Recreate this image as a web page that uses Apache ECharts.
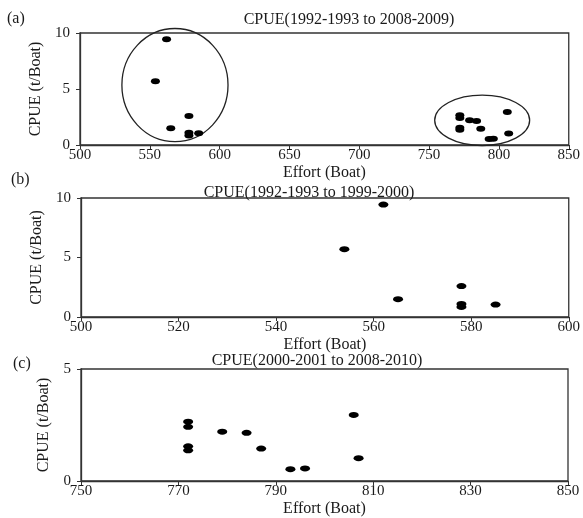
<!DOCTYPE html>
<html>
<head>
<meta charset="utf-8">
<title>CPUE vs Effort</title>
<script src="https://cdn.jsdelivr.net/npm/echarts@6/dist/echarts.min.js"></script>
<style>
    html, body { margin: 0; padding: 0; background: #fff; }
    #chart { width: 583px; height: 518px; }
</style>
</head>
<body>
<div id="chart"></div>
<script>
// 1992-1993 to 1999-2000
const effortEarly = [562, 554, 565, 578, 578, 578, 585]
const cpueEarly = [9.45, 5.7, 1.5, 2.6, 1.1, 0.85, 1.05]

// 2000-2001 to 2008-2010
const effortLate = [772, 772, 772, 772, 779, 784, 787, 793, 796, 806, 807]
const cpueLate = [2.65, 2.42, 1.55, 1.37, 2.2, 2.15, 1.45, 0.53, 0.56, 2.95, 1.02]

// the two groups circled in panel (a): centre effort, centre cpue, half width, half height
const groupCentreEffort = [568, 788]
const groupCentreCpue = [5.35, 2.2]
const groupHalfEffort = [38, 34]
const groupHalfCpue = [5.05, 2.25]

const xTicksA = [500, 550, 600, 650, 700, 750, 800, 850]
const xTicksB = [500, 520, 540, 560, 580, 600]
const xTicksC = [750, 770, 790, 810, 830, 850]
const yTicksAB = [0, 5, 10]
const yTicksC = [0, 5]

const panelTitles = ['CPUE(1992-1993 to 2008-2009)', 'CPUE(1992-1993 to 1999-2000)', 'CPUE(2000-2001 to 2008-2010)']
const panelTags = ['(a)', '(b)', '(c)']

const font = 'Liberation Serif'
const ink = '#1a1a1a'

const pairs = (xs, ys) => xs.map((x, i) => [x, ys[i]])
const allEffort = effortEarly.concat(effortLate)
const allCpue = cpueEarly.concat(cpueLate)

const grids = [
    { left: 80, top: 33, width: 492, height: 112 },
    { left: 81, top: 198, width: 489, height: 119 },
    { left: 81, top: 369, width: 487, height: 116 },
]

function xAxis(i, min, max, ticks) {
    return {
        type: 'value', gridIndex: i, min: min, max: max,
        name: 'Effort (Boat)', nameLocation: 'middle', nameGap: 20,
        nameTextStyle: { fontFamily: font, fontSize: 16, color: ink },
        axisLine: { show: true, lineStyle: { color: '#333', width: 1.3 } },
        axisTick: { show: true, length: 4, customValues: ticks, lineStyle: { color: '#333' } },
        axisLabel: { customValues: ticks, margin: 3, fontFamily: font, fontSize: 15, color: ink },
        splitLine: { show: false },
    }
}

function yAxis(i, max, ticks, gap) {
    return {
        type: 'value', gridIndex: i, min: 0, max: max,
        name: 'CPUE (t/Boat)', nameLocation: 'middle', nameGap: gap,
        nameTextStyle: { fontFamily: font, fontSize: 16, color: ink },
        axisLine: { show: true, lineStyle: { color: '#333', width: 1.3 } },
        axisTick: { show: true, length: 4, customValues: ticks, lineStyle: { color: '#333' } },
        axisLabel: { customValues: ticks, margin: 10, fontFamily: font, fontSize: 15, color: ink },
        splitLine: { show: false },
    }
}

const dot = 'path://M0,5 A5,5 0 1,1 10,5 A5,5 0 1,1 0,5 Z'

function scatter(i, data, size) {
    return {
        type: 'scatter', xAxisIndex: i, yAxisIndex: i,
        data: data, symbol: dot, symbolSize: size,
        itemStyle: { color: '#000', opacity: 1 },
        silent: true,
    }
}

const chart = echarts.init(document.getElementById('chart'), null, { renderer: 'canvas' })

chart.setOption({
    backgroundColor: '#fff',
    animation: false,
    title: [
        { text: panelTitles[0], left: 349, top: 12, textAlign: 'center' },
        { text: panelTitles[1], left: 309, top: 185, textAlign: 'center' },
        { text: panelTitles[2], left: 317, top: 353, textAlign: 'center' },
        { text: panelTags[0], left: 7, top: 11 },
        { text: panelTags[1], left: 11, top: 172 },
        { text: panelTags[2], left: 13, top: 356 },
    ].map(t => Object.assign(t, {
        padding: 0,
        textStyle: { fontFamily: font, fontSize: 16, fontWeight: 'normal', color: ink },
    })),
    grid: grids.map(g => Object.assign({ show: true, borderColor: '#333', borderWidth: 1.3, backgroundColor: '#fff' }, g)),
    xAxis: [
        xAxis(0, 500, 850, xTicksA),
        xAxis(1, 500, 600, xTicksB),
        xAxis(2, 750, 850, xTicksC),
    ],
    yAxis: [
        yAxis(0, 10, yTicksAB, 31),
        yAxis(1, 10, yTicksAB, 31),
        yAxis(2, 5, yTicksC, 29),
    ],
    series: [
        scatter(0, pairs(allEffort, allCpue), [9, 6]),
        {
            type: 'custom', xAxisIndex: 0, yAxisIndex: 0, clip: false, silent: true,
            data: groupCentreEffort.map((x, i) => [x, groupCentreCpue[i], groupHalfEffort[i], groupHalfCpue[i]]),
            encode: { x: 0, y: 1 },
            renderItem: function (params, api) {
                const c = api.coord([api.value(0), api.value(1)])
                const s = api.size([api.value(2), api.value(3)])
                return {
                    type: 'ellipse',
                    shape: { cx: c[0], cy: c[1], rx: s[0], ry: s[1] },
                    style: { fill: 'none', stroke: '#222', lineWidth: 1.3 },
                }
            },
        },
        scatter(1, pairs(effortEarly, cpueEarly), [10, 6]),
        scatter(2, pairs(effortLate, cpueLate), [10, 6]),
    ],
})
</script>
</body>
</html>
